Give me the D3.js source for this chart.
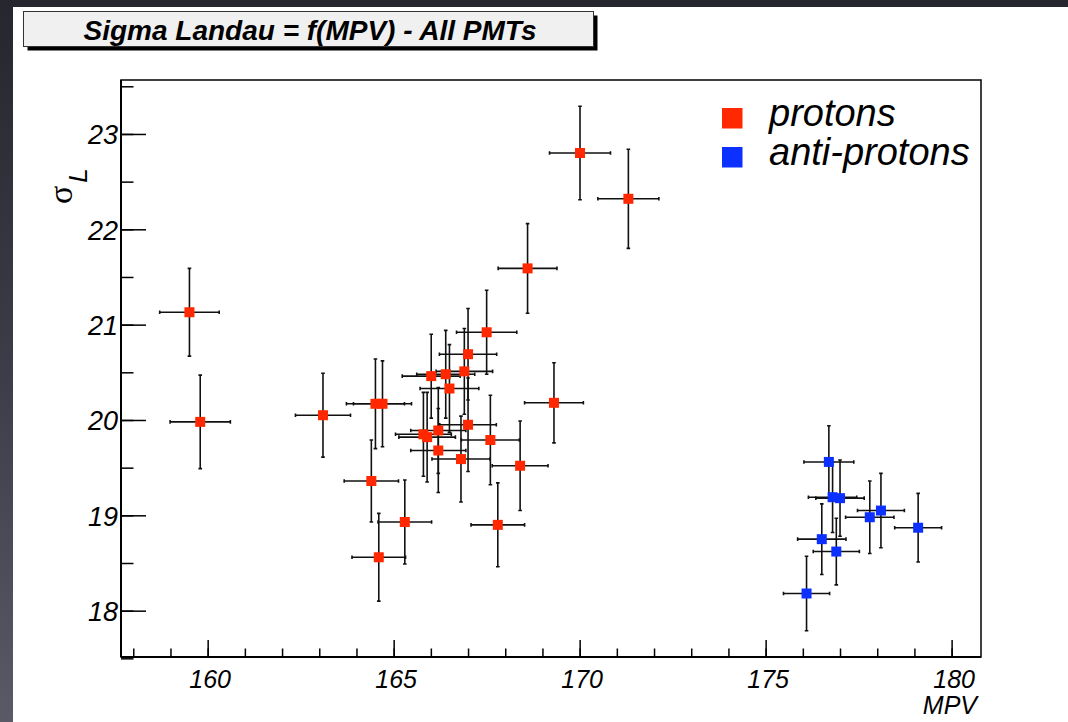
<!DOCTYPE html>
<html>
<head>
<meta charset="utf-8">
<script src="https://cdn.jsdelivr.net/npm/d3@7"></script>
<style>
  html, body { margin: 0; padding: 0; background: #2c2c34; }
  svg { display: block; }
  text { font-family: "Liberation Sans", Arial, Helvetica, sans-serif; }
</style>
</head>
<body>
<div id="chart"></div>
<script>
// protons: MPV, sigma_L and their errors
const protonMPV = [159.51, 159.80, 163.10, 164.40, 164.60, 165.30, 164.51, 164.70, 166.01, 166.40,
  166.90, 166.50, 167.00, 167.50, 165.80, 165.90, 166.20, 167.00, 166.20, 167.60,
  166.81, 168.40, 167.80, 169.31, 170.01, 171.31, 168.60];
const protonSigma = [21.13, 19.98, 20.05, 19.36, 18.56, 18.93, 20.17, 20.17, 20.46, 20.48,
  20.51, 20.33, 20.69, 20.92, 19.85, 19.82, 19.89, 19.95, 19.68, 19.79,
  19.59, 19.52, 18.90, 20.18, 22.80, 22.32, 21.59];
const protonMPVErr = [0.80, 0.81, 0.74, 0.73, 0.72, 0.72, 0.78, 0.78, 0.78, 0.78,
  0.76, 0.79, 0.77, 0.81, 0.75, 0.76, 0.74, 0.76, 0.74, 0.78,
  0.78, 0.75, 0.72, 0.79, 0.82, 0.82, 0.79];
const protonSigmaErr = [0.46, 0.49, 0.44, 0.43, 0.46, 0.44, 0.47, 0.45, 0.44, 0.46,
  0.45, 0.46, 0.48, 0.44, 0.44, 0.47, 0.45, 0.49, 0.44, 0.47,
  0.45, 0.47, 0.44, 0.42, 0.49, 0.52, 0.47];

// anti-protons
const antiMPV = [176.70, 176.80, 177.00, 176.51, 176.90, 176.10, 177.80, 178.10, 179.10];
const antiSigma = [19.56, 19.19, 19.18, 18.75, 18.62, 18.18, 18.98, 19.05, 18.87];
const antiMPVErr = [0.67, 0.65, 0.65, 0.65, 0.62, 0.62, 0.65, 0.63, 0.63];
const antiSigmaErr = [0.38, 0.37, 0.40, 0.37, 0.35, 0.39, 0.38, 0.39, 0.36];

// ticks
const xMajorTicks = [160, 165, 170, 175, 180];
const xMinorTicks = d3.range(158, 181, 1);
const yMajorTicks = [18, 19, 20, 21, 22, 23];
const yMinorTicks = d3.range(17.5, 23.6, 0.5);

const legendLabels = ["protons", "anti-protons"];

const width = 1068, height = 722;
const frame = { left: 121, right: 981, top: 80, bottom: 657 };
const red = "#ff2800", blue = "#0c30ff";

const svg = d3.select("#chart").append("svg")
  .attr("width", width)
  .attr("height", height);

// dark brushed background around the white canvas
const defs = svg.append("defs");
const grad = defs.append("linearGradient")
  .attr("id", "bg").attr("x1", 0).attr("y1", 0).attr("x2", 0).attr("y2", 1);
grad.append("stop").attr("offset", "0%").attr("stop-color", "#26262e");
grad.append("stop").attr("offset", "50%").attr("stop-color", "#3c3c48");
grad.append("stop").attr("offset", "100%").attr("stop-color", "#5a5a66");
svg.append("rect").attr("width", width).attr("height", height).attr("fill", "url(#bg)");
svg.append("rect").attr("x", 13).attr("y", 7).attr("width", width - 13).attr("height", height - 7)
  .attr("fill", "#ffffff");

// title box with shadow
svg.append("rect").attr("x", 27.5).attr("y", 15.5).attr("width", 570).attr("height", 35).attr("fill", "#000");
svg.append("rect").attr("x", 23.5).attr("y", 11.5).attr("width", 570).attr("height", 35)
  .attr("fill", "#f0f0f0").attr("stroke", "#333").attr("stroke-width", 1);
svg.append("text")
  .attr("x", 310).attr("y", 40)
  .attr("text-anchor", "middle")
  .style("font-size", "28px").style("font-weight", "bold").style("font-style", "italic")
  .text("Sigma Landau = f(MPV) - All PMTs");

// scales
const x = d3.scaleLinear().domain([157.67, 180.79]).range([frame.left, frame.right]);
const y = d3.scaleLinear().domain([17.514, 23.566]).range([frame.bottom, frame.top]);

// frame (top + right)
svg.append("rect")
  .attr("x", frame.left).attr("y", frame.top)
  .attr("width", frame.right - frame.left).attr("height", frame.bottom - frame.top)
  .attr("fill", "none").attr("stroke", "#000").attr("stroke-width", 1.5);

// x axis: minor ticks, then major ticks with labels
const xMinor = svg.append("g").attr("transform", `translate(0,${frame.bottom})`)
  .call(d3.axisBottom(x).tickValues(xMinorTicks).tickSize(-8.5).tickFormat(""));
const xMajor = svg.append("g").attr("transform", `translate(0,${frame.bottom})`)
  .call(d3.axisBottom(x).tickValues(xMajorTicks).tickSize(-17).tickFormat(d3.format("d")));
[xMinor, xMajor].forEach(g => {
  g.select(".domain").attr("stroke", "#000").attr("stroke-width", 2).attr("d", `M${frame.left},0H${frame.right}`);
  g.selectAll(".tick line").attr("stroke", "#000").attr("stroke-width", 1.5);
});
xMajor.selectAll(".tick text")
  .attr("y", 31).attr("dy", 0).attr("x", 2)
  .style("font-size", "25px").style("font-style", "italic").attr("fill", "#000");

// y axis
const yMinor = svg.append("g").attr("transform", `translate(${frame.left},0)`)
  .call(d3.axisLeft(y).tickValues(yMinorTicks).tickSize(-12.5).tickFormat(""));
const yMajor = svg.append("g").attr("transform", `translate(${frame.left},0)`)
  .call(d3.axisLeft(y).tickValues(yMajorTicks).tickSize(-25).tickFormat(d3.format("d")));
[yMinor, yMajor].forEach(g => {
  g.select(".domain").attr("stroke", "#000").attr("stroke-width", 2).attr("d", `M0,${frame.top}V${frame.bottom}`);
  g.selectAll(".tick line").attr("stroke", "#000").attr("stroke-width", 1.5);
});
yMajor.selectAll(".tick text")
  .attr("x", -3).attr("dy", 10)
  .style("font-size", "27px").style("font-style", "italic").attr("fill", "#000");

// axis titles
svg.append("text")
  .attr("x", 977).attr("y", 714)
  .attr("text-anchor", "end")
  .style("font-size", "25px").style("font-style", "italic")
  .text("MPV");

const yTitle = svg.append("text")
  .attr("transform", "translate(72,204) rotate(-90)");
yTitle.append("tspan")
  .style("font-family", "'Liberation Serif', 'Times New Roman', serif")
  .style("font-size", "34px")
  .text("σ");
yTitle.append("tspan")
  .attr("dy", 15).attr("dx", 3)
  .style("font-size", "26px").style("font-style", "italic")
  .text("L");

// error bars + markers
function drawSeries(xs, ys, exs, eys, color) {
  const pts = xs.map((v, i) => ({ x: v, y: ys[i], ex: exs[i], ey: eys[i] }));
  const g = svg.append("g");
  const cap = 1.8;
  const bars = g.selectAll("g.err").data(pts).enter().append("g").attr("class", "err")
    .attr("stroke", "#111").attr("stroke-width", 1.6);
  bars.append("line")
    .attr("x1", d => x(d.x - d.ex)).attr("x2", d => x(d.x + d.ex))
    .attr("y1", d => y(d.y)).attr("y2", d => y(d.y));
  bars.append("line")
    .attr("x1", d => x(d.x)).attr("x2", d => x(d.x))
    .attr("y1", d => y(d.y - d.ey)).attr("y2", d => y(d.y + d.ey));
  // small end caps
  bars.append("path")
    .attr("d", d => {
      const x0 = x(d.x - d.ex), x1 = x(d.x + d.ex), yc = y(d.y);
      const y0 = y(d.y - d.ey), y1 = y(d.y + d.ey), xc = x(d.x);
      return `M${x0},${yc - cap}V${yc + cap}M${x1},${yc - cap}V${yc + cap}` +
        `M${xc - cap},${y0}H${xc + cap}M${xc - cap},${y1}H${xc + cap}`;
    });
  g.selectAll("rect.mk").data(pts).enter().append("rect").attr("class", "mk")
    .attr("x", d => x(d.x) - 5).attr("y", d => y(d.y) - 5)
    .attr("width", 10).attr("height", 10)
    .attr("fill", color);
}
drawSeries(protonMPV, protonSigma, protonMPVErr, protonSigmaErr, red);
drawSeries(antiMPV, antiSigma, antiMPVErr, antiSigmaErr, blue);

// legend
const legend = svg.append("g");
[red, blue].forEach((c, i) => {
  legend.append("rect")
    .attr("x", 722).attr("y", 108 + i * 39)
    .attr("width", 20.5).attr("height", 20.5)
    .attr("fill", c);
  legend.append("text")
    .attr("x", 769).attr("y", 126 + i * 39)
    .style("font-size", "38px").style("font-style", "italic")
    .text(legendLabels[i]);
});
</script>
</body>
</html>
